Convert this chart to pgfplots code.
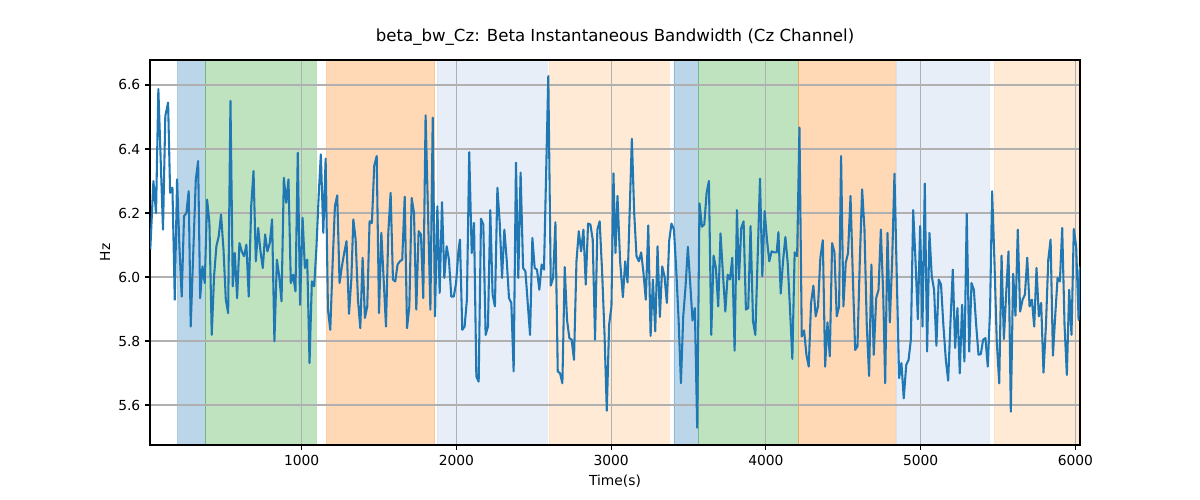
\documentclass[border=0pt]{standalone}
\usepackage{fontspec}
\setmainfont{DejaVu Sans}
\usepackage{pgfplots}
\pgfplotsset{compat=1.18}
\definecolor{tabblue}{HTML}{1F77B4}
\definecolor{tabgreen}{HTML}{2CA02C}
\definecolor{taborange}{HTML}{FF7F0E}
\definecolor{ltblue}{HTML}{AEC7E8}
\definecolor{ltorange}{HTML}{FFBB78}
\definecolor{gridgray}{HTML}{B0B0B0}
\begin{document}
\begin{tikzpicture}
\begin{axis}[
  set layers,
  at={(0,0)}, anchor=south west, scale only axis,
  width=9.3in, height=3.85in,
  xmin=20, xmax=6030, ymin=5.475, ymax=6.678,
  xtick={1000,2000,3000,4000,5000,6000},
  ytick={5.6,5.8,6.0,6.2,6.4,6.6},
  yticklabel style={/pgf/number format/.cd,fixed,fixed zerofill,precision=1},
  xticklabel style={/pgf/number format/.cd,set thousands separator={}},
  /pgf/number format/assume math mode=true,
  tick label style={font=\fontsize{10}{12}\selectfont},
  label style={font=\fontsize{10}{12}\selectfont},
  title style={font=\fontsize{12}{14}\selectfont, at={(axis description cs:0.5,1.038)}, anchor=center},
  title={beta\_bw\_Cz: Beta Instantaneous Bandwidth (Cz Channel)},
  xlabel={Time(s)}, ylabel={Hz},
  xlabel style={at={(axis description cs:0.5,-0.0935)}, anchor=center},
  ylabel style={at={(axis description cs:-0.0484,0.5)}, anchor=center},
  grid=major, grid style={gridgray, line width=0.8pt},
  axis line style={line width=0.8pt},
  tick align=outside, major tick length=3.5pt,
  tick style={black, line width=0.8pt},
  xtick pos=bottom, ytick pos=left,
]
\addplot[on layer=axis background, fill=tabblue, fill opacity=0.3, draw=tabblue, draw opacity=0.3] coordinates {(199,5.475) (376,5.475) (376,6.678) (199,6.678) (199,5.475)};
\addplot[on layer=axis background, fill=tabgreen, fill opacity=0.3, draw=tabgreen, draw opacity=0.3] coordinates {(376,5.475) (1094,5.475) (1094,6.678) (376,6.678) (376,5.475)};
\addplot[on layer=axis background, fill=taborange, fill opacity=0.3, draw=taborange, draw opacity=0.3] coordinates {(1161,5.475) (1860,5.475) (1860,6.678) (1161,6.678) (1161,5.475)};
\addplot[on layer=axis background, fill=ltblue, fill opacity=0.3, draw=ltblue, draw opacity=0.3] coordinates {(1877,5.475) (2586,5.475) (2586,6.678) (1877,6.678) (1877,5.475)};
\addplot[on layer=axis background, fill=ltorange, fill opacity=0.3, draw=ltorange, draw opacity=0.3] coordinates {(2601,5.475) (3373,5.475) (3373,6.678) (2601,6.678) (2601,5.475)};
\addplot[on layer=axis background, fill=tabblue, fill opacity=0.3, draw=tabblue, draw opacity=0.3] coordinates {(3406,5.475) (3563,5.475) (3563,6.678) (3406,6.678) (3406,5.475)};
\addplot[on layer=axis background, fill=tabgreen, fill opacity=0.3, draw=tabgreen, draw opacity=0.3] coordinates {(3563,5.475) (4208,5.475) (4208,6.678) (3563,6.678) (3563,5.475)};
\addplot[on layer=axis background, fill=taborange, fill opacity=0.3, draw=taborange, draw opacity=0.3] coordinates {(4208,5.475) (4835,5.475) (4835,6.678) (4208,6.678) (4208,5.475)};
\addplot[on layer=axis background, fill=ltblue, fill opacity=0.3, draw=ltblue, draw opacity=0.3] coordinates {(4840,5.475) (5443,5.475) (5443,6.678) (4840,6.678) (4840,5.475)};
\addplot[on layer=axis background, fill=ltorange, fill opacity=0.3, draw=ltorange, draw opacity=0.3] coordinates {(5476,5.475) (6030,5.475) (6030,6.678) (5476,6.678) (5476,5.475)};
\addplot[color=tabblue, line width=1.5pt, line join=round] coordinates {
(22,6.086) (42,6.300) (59,6.200) (74,6.587) (89,6.367) (104,6.148) (119,6.503) (137,6.545) (150,6.263) (165,6.279)
(180,5.929) (195,6.305) (210,6.096) (225,5.939) (240,6.190) (255,6.200) (270,6.268) (283,5.845) (301,6.096) (316,6.305)
(331,6.362) (344,5.934) (359,6.033) (374,5.981) (389,6.242) (404,6.169) (419,5.819) (434,6.002) (449,6.096) (464,6.127)
(479,6.195) (495,6.086) (510,5.929) (525,5.887) (540,6.550) (555,5.971) (568,6.075) (583,5.934) (598,6.106) (613,6.080)
(628,6.065) (643,6.101) (658,5.939) (674,6.221) (689,6.331) (704,6.049) (719,6.153) (734,6.080) (749,6.028) (764,6.133)
(779,6.080) (794,6.106) (809,6.180) (824,5.799) (840,6.054) (855,6.002) (870,5.924) (885,6.310) (900,6.232) (915,6.305)
(930,5.981) (945,6.007) (960,5.955) (975,6.388) (990,5.913) (1006,6.185)
(1021,6.028) (1036,6.054) (1051,5.731) (1066,5.986) (1081,5.971) (1096,6.096) (1111,6.263) (1124,6.383) (1140,6.138) (1155,6.370)
(1170,5.898) (1185,5.835) (1200,6.040) (1215,6.221) (1230,6.255) (1245,5.981) (1260,6.033) (1275,6.075) (1290,6.112) (1306,5.885)
(1321,5.992) (1334,6.180) (1349,6.117) (1364,5.929) (1379,5.840) (1394,6.060) (1409,5.872) (1424,5.908) (1439,6.174) (1454,6.169)
(1469,6.347) (1485,6.378) (1500,5.887) (1515,6.138) (1530,5.992) (1545,5.845) (1560,6.138) (1575,6.263) (1590,5.992) (1605,5.986)
(1620,6.039) (1635,6.049) (1650,6.054) (1666,6.251) (1681,5.840) (1696,5.908) (1711,6.247) (1726,6.200) (1741,5.898) (1756,6.143)
(1771,6.133) (1786,5.934) (1801,6.505) (1832,5.898) (1847,6.498) (1862,5.877) (1877,6.221) (1892,5.950) (1907,6.234) (1922,5.997)
(1937,6.096) (1952,6.054) (1967,5.939) (1983,5.939) (1998,5.981)
(2013,6.080) (2023,6.117) (2038,5.835) (2053,5.845) (2068,5.929) (2083,6.390) (2099,6.075) (2114,6.169) (2129,5.689) (2144,5.673)
(2159,6.182) (2174,6.164) (2189,5.819) (2204,5.845) (2219,6.209) (2234,5.945) (2249,5.908) (2265,6.279) (2280,6.169) (2295,5.997)
(2310,6.148) (2325,6.054) (2340,5.934) (2355,5.919) (2370,5.705) (2385,6.357) (2400,5.997) (2415,6.326) (2431,6.028) (2446,6.018)
(2461,5.919) (2476,5.819) (2491,6.122) (2506,6.028) (2521,6.023) (2536,5.960) (2551,6.039) (2566,6.023) (2594,6.628) (2610,5.973)
(2625,5.997) (2640,6.171) (2655,5.705) (2670,5.699) (2685,5.668) (2700,6.031) (2715,5.866) (2730,5.809) (2745,5.804) (2760,5.741)
(2776,6.049) (2791,6.143) (2806,6.080) (2821,6.148) (2836,5.976) (2851,6.167) (2866,6.164) (2881,6.117) (2896,5.804) (2911,6.148)
(2926,6.174) (2942,6.013) (2957,5.825) (2972,5.582) (2987,5.851) (3002,5.908)
(3015,6.324) (3028,6.075) (3041,6.253) (3058,6.050) (3076,5.937) (3091,6.049) (3106,5.983) (3134,6.432) (3149,6.200) (3164,6.065)
(3179,6.049) (3194,6.077) (3209,6.013) (3224,5.929) (3240,6.161) (3255,5.816) (3270,5.992) (3285,5.830) (3300,6.096) (3315,5.875)
(3330,6.033) (3345,6.002) (3360,5.919) (3375,6.112) (3390,6.167) (3406,6.148) (3421,6.020) (3436,5.866) (3451,5.668) (3466,5.877)
(3481,5.971) (3496,6.094) (3511,5.980) (3526,5.864) (3541,5.903) (3556,5.529) (3571,6.230) (3587,6.157) (3602,6.164) (3617,6.263)
(3632,6.300) (3647,5.819) (3662,6.067) (3677,6.028) (3692,5.908) (3707,6.136) (3722,6.013) (3738,5.892) (3753,6.007) (3768,5.992)
(3783,6.060) (3798,5.770) (3813,6.209) (3826,5.992) (3841,6.153) (3856,6.174) (3871,5.898) (3886,5.903) (3901,6.159) (3917,5.861)
(3932,5.819) (3962,6.307) (3977,6.002) (3992,6.206) (4007,6.117) (4022,6.049) (4037,6.080)
(4055,6.077) (4070,6.077) (4081,6.140) (4096,5.948) (4111,6.050) (4126,6.125) (4141,6.044) (4156,5.900) (4171,5.744) (4186,6.077)
(4202,6.065) (4217,6.467) (4232,5.814) (4247,5.833) (4262,5.757) (4277,5.720) (4292,5.919) (4307,5.973) (4322,5.877) (4337,5.908)
(4352,6.060) (4368,6.115) (4383,5.720) (4398,5.858) (4413,5.752) (4428,6.106) (4443,6.077) (4458,5.877) (4473,5.908) (4486,6.378)
(4501,5.908) (4516,6.044) (4531,6.075) (4547,6.253) (4562,6.000) (4577,5.772) (4592,5.783) (4607,6.050) (4622,6.274) (4637,6.150)
(4652,5.850) (4667,5.691) (4682,6.039) (4697,5.757) (4713,5.934) (4728,5.960) (4743,6.148) (4758,5.950) (4771,5.668) (4786,6.138)
(4801,5.858) (4816,6.050) (4831,6.323) (4846,6.000) (4861,5.684) (4876,5.731) (4891,5.621) (4907,5.725) (4922,5.741) (4937,5.804)
(4952,6.209) (4967,6.050) (4982,5.868) (4997,6.159) (5012,5.845) (5027,6.292)
(5042,5.767) (5057,6.138) (5072,6.002) (5087,5.960) (5102,5.785) (5117,5.992) (5132,5.976) (5147,5.850) (5163,5.741) (5178,5.676)
(5193,5.860) (5208,6.023) (5223,5.778) (5238,5.903) (5253,5.699) (5268,5.913) (5283,5.736) (5298,6.198) (5314,5.767) (5329,5.981)
(5344,5.960) (5359,5.850) (5374,5.757) (5389,5.759) (5404,5.804) (5419,5.809) (5434,5.720) (5449,5.900) (5462,6.268) (5477,6.050)
(5492,5.800) (5508,5.668) (5523,6.067) (5538,5.806) (5553,5.950) (5568,6.080) (5583,5.579) (5598,6.010) (5613,5.879) (5628,6.148)
(5643,5.892) (5659,5.929) (5674,5.945) (5689,6.060) (5704,5.908) (5719,5.929) (5734,5.845) (5749,6.028) (5764,5.877) (5779,5.919)
(5794,5.701) (5810,5.850) (5825,6.054) (5840,6.117) (5855,5.754) (5870,5.880) (5885,5.997) (5900,5.986) (5915,6.153) (5930,5.850)
(5945,5.694) (5960,5.960) (5975,5.819) (5990,6.150) (6005,6.096) (6021,5.866) (6029,6.033)
};
\end{axis}
\pgfresetboundingbox
\path[use as bounding box] (-1.5in,-0.55in) rectangle (10.5in,4.45in);
\end{tikzpicture}
\end{document}
